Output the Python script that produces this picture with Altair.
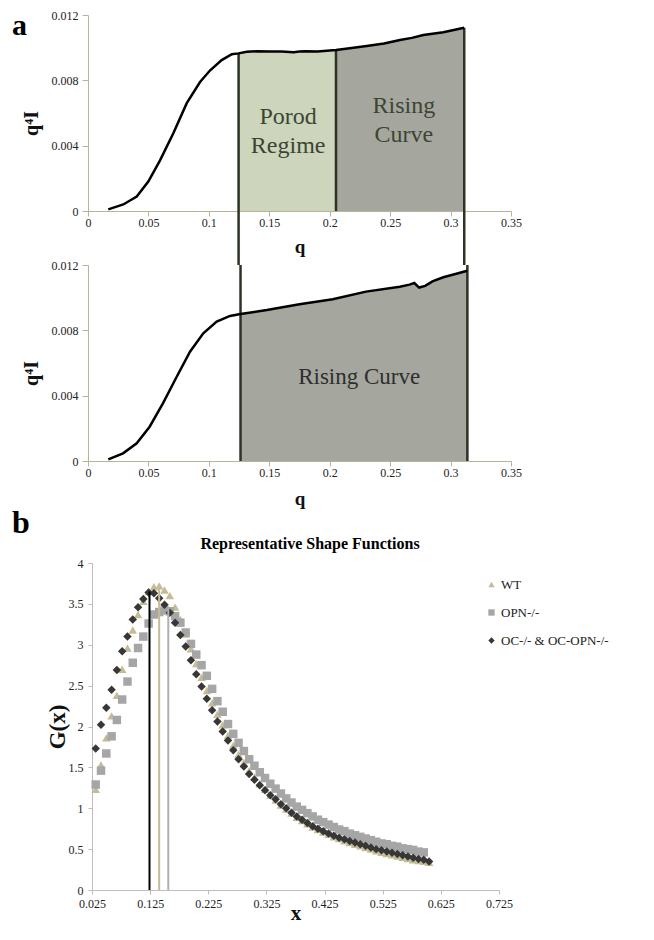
import altair as alt
import pandas as pd

SERIF = "Liberation Serif"

# ---------------- panel a, upper curve (q, q^4 I) ----------------
top_q = [0.0168, 0.0292, 0.0403, 0.0499, 0.0596, 0.0706, 0.0817, 0.0927, 0.1009, 0.1106,
         0.1190, 0.1246, 0.1313, 0.1400, 0.1500, 0.1600, 0.1700, 0.1750, 0.1800, 0.1900,
         0.2052, 0.2150, 0.2306, 0.2450, 0.2581, 0.2680, 0.2775, 0.2940, 0.3113]
top_i = [0.00010, 0.00040, 0.00088, 0.00180, 0.00310, 0.00476, 0.00660, 0.00790, 0.00860, 0.00924,
         0.00960, 0.00965, 0.00975, 0.00978, 0.00977, 0.00976, 0.00972, 0.00976, 0.00978, 0.00977,
         0.00986, 0.00995, 0.01010, 0.01025, 0.01047, 0.01060, 0.01078, 0.01094, 0.01122]
top_edges = [0.1246, 0.2052, 0.3113]

# ---------------- panel a, lower curve ----------------
bot_q = [0.0168, 0.0290, 0.0403, 0.0510, 0.0620, 0.0734, 0.0844, 0.0954, 0.1065, 0.1175,
         0.1262, 0.1480, 0.1750, 0.2025, 0.2300, 0.2580, 0.2660, 0.2700, 0.2740, 0.2790,
         0.2850, 0.2940, 0.3139]
bot_i = [0.00010, 0.00047, 0.00108, 0.00210, 0.00353, 0.00516, 0.00669, 0.00782, 0.00853, 0.00888,
         0.00900, 0.00924, 0.00960, 0.00990, 0.01037, 0.01067, 0.01080, 0.01090, 0.01062, 0.01072,
         0.01100, 0.01125, 0.01165]
bot_edges = [0.1262, 0.3139]

top_labels = ["Porod", "Regime", "Rising", "Curve"]
top_label_q = [0.1656, 0.1656, 0.2614, 0.2614]
top_label_i = [0.00576, 0.00398, 0.00643, 0.00465]
bot_labels = ["Rising Curve"]
bot_label_q = [0.2244]
bot_label_i = [0.00516]

# ---------------- panel b, shape functions ----------------
gx = [0.0314, 0.0405, 0.0496, 0.0587, 0.0678, 0.0769, 0.0860, 0.0951, 0.1042, 0.1133,
      0.1224, 0.1315, 0.1406, 0.1497, 0.1588, 0.1679, 0.1770, 0.1861, 0.1952, 0.2043,
      0.2134, 0.2225, 0.2316, 0.2407, 0.2498, 0.2589, 0.2680, 0.2771, 0.2862, 0.2953,
      0.3044, 0.3135, 0.3226, 0.3317, 0.3408, 0.3499, 0.3590, 0.3681, 0.3772, 0.3863,
      0.3954, 0.4045, 0.4136, 0.4227, 0.4318, 0.4409, 0.4500, 0.4591, 0.4682, 0.4773,
      0.4864, 0.4955, 0.5046, 0.5137, 0.5228, 0.5319, 0.5410, 0.5501, 0.5592, 0.5683,
      0.5774, 0.5865, 0.5956, 0.6047]
g_wt = [1.23, 1.53, 1.86, 2.13, 2.38, 2.70, 2.96, 3.18, 3.37, 3.53,
        3.65, 3.71, 3.72, 3.67, 3.60, 3.46, 3.31, 3.13, 2.95, 2.77,
        2.60, 2.44, 2.29, 2.15, 2.02, 1.89, 1.77, 1.66, 1.56, 1.46,
        1.38, 1.30, 1.23, 1.16, 1.10, 1.04, 0.99, 0.94, 0.89, 0.85,
        0.81, 0.77, 0.74, 0.71, 0.68, 0.65, 0.63, 0.60, 0.58, 0.56,
        0.54, 0.52, 0.50, 0.48, 0.46, 0.445, 0.43, 0.415, 0.40, 0.385,
        0.37, 0.36, 0.35, 0.34]
g_opn = [1.29, 1.46, 1.67, 1.88, 2.08, 2.33, 2.55, 2.78, 2.96, 3.10,
         3.26, 3.37, 3.40, 3.42, 3.41, 3.35, 3.27, 3.15, 3.01, 2.88,
         2.75, 2.62, 2.46, 2.31, 2.18, 2.03, 1.91, 1.80, 1.70, 1.60,
         1.52, 1.44, 1.37, 1.30, 1.24, 1.18, 1.12, 1.07, 1.02, 0.98,
         0.94, 0.90, 0.86, 0.83, 0.80, 0.77, 0.74, 0.72, 0.69, 0.67,
         0.65, 0.63, 0.61, 0.59, 0.57, 0.56, 0.54, 0.53, 0.51, 0.50,
         0.49, 0.47, 0.46]
g_oc = [1.73, 2.02, 2.23, 2.45, 2.69, 2.92, 3.10, 3.31, 3.46, 3.56,
        3.64, 3.63, 3.57, 3.49, 3.39, 3.27, 3.12, 2.98, 2.81, 2.64,
        2.49, 2.34, 2.20, 2.06, 1.94, 1.83, 1.71, 1.60, 1.51, 1.42,
        1.35, 1.28, 1.22, 1.16, 1.11, 1.05, 1.00, 0.945, 0.90, 0.86,
        0.82, 0.78, 0.75, 0.72, 0.69, 0.665, 0.64, 0.62, 0.60, 0.58,
        0.56, 0.54, 0.52, 0.50, 0.485, 0.47, 0.455, 0.44, 0.425, 0.41,
        0.395, 0.38, 0.37, 0.35]
series_names = ["WT", "OPN-/-", "OC-/- & OC-OPN-/-"]
series_colors = ["#c5bc95", "#a6a6a6", "#373737"]
series_shapes = ["triangle-up", "square", "diamond"]

peak_x = [0.1239, 0.1405, 0.1562]
peak_g = [3.65, 3.71, 3.45]
peak_col = ["#000000", "#c5bc95", "#b0b0b0"]

# ---------------- layout constants ----------------
W_A, H_A = 423, 196
GAP = 54
B_TOP = 48
B_LEFT = 4
W_B, H_B = 4 + 407, 327 + 48
AX_A = "#b3b69b"
AX_B = "#bdbdbd"
TICK_FS = 12

df_top = pd.DataFrame({"q": top_q, "i": top_i})
df_bot = pd.DataFrame({"q": bot_q, "i": bot_i})
top_lookup = dict(zip(top_q, top_i))


def x_axis_a(title_y):
    return alt.Axis(values=[0, 0.05, 0.1, 0.15, 0.2, 0.25, 0.3, 0.35], format=".2~f", title="q",
                    domainColor=AX_A, tickColor=AX_A, tickSize=5, labelPadding=1, grid=False,
                    labelFont=SERIF, labelFontSize=TICK_FS, labelColor="#222222", labelFlush=False,
                    labelOverlap=False, titleFont=SERIF, titleFontSize=19, titleFontWeight="bold",
                    titleColor="#111111", titleX=W_A / 2, titleY=title_y, titleBaseline="middle",
                    titleAlign="center")


def y_axis_a():
    return alt.Axis(values=[0, 0.004, 0.008, 0.012], format=".3~f", title="q⁴I",
                    domainColor=AX_A, tickColor=AX_A, tickSize=6, labelPadding=4, grid=False,
                    labelFont=SERIF, labelFontSize=TICK_FS, labelColor="#222222", labelFlush=False,
                    titleFont=SERIF, titleFontSize=20, titleFontWeight="bold", titleColor="#111111",
                    titleX=-57, titleY=H_A / 2 + 10, titleAngle=270, titleBaseline="middle",
                    titleAlign="center")


def xa(title_y):
    return alt.X("q:Q", scale=alt.Scale(domain=[0, 0.35], nice=False, zero=False), axis=x_axis_a(title_y))


ya = alt.Y("i:Q", scale=alt.Scale(domain=[0, 0.012], nice=False, zero=False), axis=y_axis_a())

# ---- upper panel a ----
porod = alt.Chart(df_top[(df_top.q >= top_edges[0]) & (df_top.q <= top_edges[1])]).mark_area(
    color="#cdd5bc").encode(x=xa(35), y=ya)
rising1 = alt.Chart(df_top[(df_top.q >= top_edges[1]) & (df_top.q <= top_edges[2])]).mark_area(
    color="#a5a79f").encode(x=xa(35), y=ya)
edges_long = pd.DataFrame({"q": [top_edges[0], top_edges[2]],
                           "i": [top_lookup[top_edges[0]], top_lookup[top_edges[2]]]})
edges_short = pd.DataFrame({"q": [top_edges[1]], "i": [top_lookup[top_edges[1]]]})
rule_long = alt.Chart(edges_long).mark_rule(color="#2b3324", strokeWidth=2.5).encode(
    x="q:Q", y="i:Q", y2=alt.value(H_A + GAP))
rule_short = alt.Chart(edges_short).mark_rule(color="#2b3324", strokeWidth=2.5).encode(
    x="q:Q", y="i:Q", y2=alt.value(H_A))
line1 = alt.Chart(df_top).mark_line(color="#000000", strokeWidth=2.5).encode(x="q:Q", y="i:Q")
text1 = alt.Chart(pd.DataFrame({"q": top_label_q, "i": top_label_i, "t": top_labels})).mark_text(
    font=SERIF, fontSize=24, color="#3b4533", align="center", baseline="middle").encode(
    x="q:Q", y="i:Q", text="t:N")
letter_a = alt.Chart(pd.DataFrame({"t": ["a"]})).mark_text(
    font=SERIF, fontSize=30, fontWeight="bold", color="#000000", align="left",
    baseline="top").encode(x=alt.value(-76), y=alt.value(-4), text="t:N")
panel1 = alt.layer(porod, rising1, rule_long, rule_short, line1, text1, letter_a).properties(
    width=W_A, height=H_A)

# ---- lower panel a ----
rising2 = alt.Chart(df_bot[(df_bot.q >= bot_edges[0]) & (df_bot.q <= bot_edges[1])]).mark_area(
    color="#a5a79f").encode(x=xa(37), y=ya)
rule2 = alt.Chart(pd.DataFrame({"q": bot_edges, "i": [0.0, 0.0]})).mark_rule(
    color="#2b3324", strokeWidth=2.5).encode(x="q:Q", y="i:Q", y2=alt.value(0))
line2 = alt.Chart(df_bot).mark_line(color="#000000", strokeWidth=2.5).encode(x="q:Q", y="i:Q")
text2 = alt.Chart(pd.DataFrame({"q": bot_label_q, "i": bot_label_i, "t": bot_labels})).mark_text(
    font=SERIF, fontSize=23, color="#2e2e2e", align="center", baseline="middle").encode(
    x="q:Q", y="i:Q", text="t:N")
panel2 = alt.layer(rising2, rule2, line2, text2).properties(width=W_A, height=H_A)

# ---- panel b ----
frames = []
for name, ys in zip(series_names, [g_wt, g_opn, g_oc]):
    frames.append(pd.DataFrame({"x": gx[:len(ys)], "g": ys, "s": name}))
df_b = pd.concat(frames, ignore_index=True)

xb = alt.X("x:Q", scale=alt.Scale(domain=[0.025, 0.725], range=[B_LEFT, W_B], nice=False, zero=False),
           axis=alt.Axis(values=[0.025, 0.125, 0.225, 0.325, 0.425, 0.525, 0.625, 0.725], format=".3f",
                         title="x", domainColor=AX_B, tickColor=AX_B, tickSize=4, labelPadding=4,
                         grid=False, labelFont=SERIF, labelFontSize=TICK_FS, labelColor="#222222",
                         labelFlush=False, labelOverlap=False, titleFont=SERIF, titleFontSize=21,
                         titleFontWeight="bold", titleColor="#111111", titleX=(B_LEFT + W_B) / 2,
                         titleY=23, titleBaseline="middle", titleAlign="center"))
yb = alt.Y("g:Q", scale=alt.Scale(domain=[0, 4], range=[H_B, B_TOP], nice=False, zero=False),
           axis=alt.Axis(values=[0, 0.5, 1, 1.5, 2, 2.5, 3, 3.5, 4], format=".1~f", title="G(x)",
                         offset=-B_LEFT, domainColor=AX_B, tickColor=AX_B, tickSize=4, labelPadding=5,
                         grid=False, labelFont=SERIF, labelFontSize=TICK_FS, labelColor="#222222",
                         labelFlush=False, titleFont=SERIF, titleFontSize=23, titleFontWeight="bold",
                         titleColor="#111111", titleX=-35, titleY=B_TOP + 163.5, titleAngle=270,
                         titleBaseline="middle", titleAlign="center"))
# legend sits in the top-level layout, so its position is from panel a's origin
leg = alt.Legend(orient="none", legendX=397, legendY=563, title=None, labelFont=SERIF,
                 labelFontSize=13, labelColor="#222222", symbolSize=40, rowPadding=14, labelOffset=3)
points = alt.Chart(df_b).mark_point(filled=True, opacity=1, size=72).encode(
    x=xb, y=yb,
    color=alt.Color("s:N", scale=alt.Scale(domain=series_names, range=series_colors), legend=leg),
    shape=alt.Shape("s:N", scale=alt.Scale(domain=series_names, range=series_shapes), legend=leg))
peaks = alt.Chart(pd.DataFrame({"x": peak_x, "g": peak_g, "z": [0, 0, 0], "c": peak_col})).mark_rule(
    strokeWidth=2).encode(x="x:Q", y="g:Q", y2="z:Q", color=alt.Color("c:N", scale=None))
title_b = alt.Chart(pd.DataFrame({"t": ["Representative Shape Functions"]})).mark_text(
    font=SERIF, fontSize=16, fontWeight="bold", color="#000000", align="center",
    baseline="alphabetic").encode(x=alt.value(222), y=alt.value(34), text="t:N")
letter_b = alt.Chart(pd.DataFrame({"t": ["b"]})).mark_text(
    font=SERIF, fontSize=32, fontWeight="bold", color="#000000", align="left",
    baseline="alphabetic").encode(x=alt.value(-76), y=alt.value(18), text="t:N")
panel3 = alt.layer(points, peaks, title_b, letter_b).properties(width=W_B, height=H_B)

chart = alt.vconcat(panel1, panel2, panel3, spacing=GAP, bounds="flush").properties(
    padding={"left": 4, "top": 1, "right": 0, "bottom": 0}
).configure_view(stroke=None)

chart.save("out.html", embed_options={"renderer": "svg", "actions": False})
